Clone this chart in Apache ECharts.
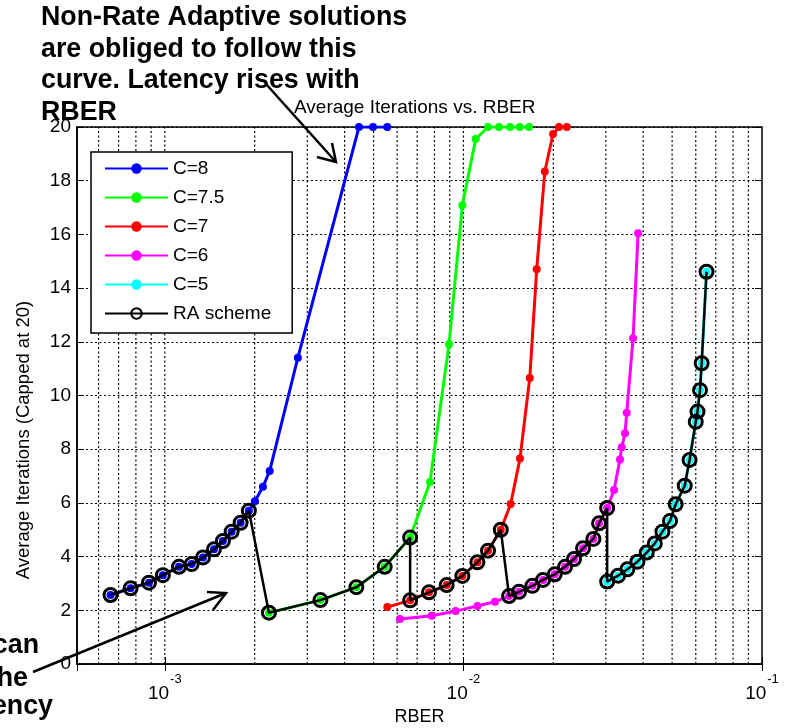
<!DOCTYPE html>
<html>
<head>
<meta charset="utf-8">
<script src="https://cdn.jsdelivr.net/npm/echarts@6/dist/echarts.min.js"></script>
<style>
html,body{margin:0;padding:0;background:#fff;}
#chart{width:787px;height:728px;}
</style>
</head>
<body>
<div id="chart"></div>
<script>
// ---- data ----
const blueX = [6.58e-4, 7.68e-4, 8.85e-4, 9.85e-4, 1.115e-3, 1.23e-3, 1.342e-3, 1.461e-3, 1.565e-3, 1.674e-3, 1.794e-3, 1.912e-3, 2.003e-3, 2.131e-3, 2.245e-3, 2.79e-3, 4.47e-3, 4.98e-3, 5.56e-3];
const blueY = [2.57, 2.82, 3.03, 3.31, 3.62, 3.72, 3.97, 4.27, 4.58, 4.93, 5.26, 5.71, 6.06, 6.60, 7.19, 11.41, 20, 20, 20];

const greenX = [2.232e-3, 3.32e-3, 4.38e-3, 5.45e-3, 6.63e-3, 7.73e-3, 8.95e-3, 9.92e-3, 1.0995e-2, 1.209e-2, 1.316e-2, 1.433e-2, 1.544e-2, 1.659e-2];
const greenY = [1.91, 2.38, 2.86, 3.62, 4.71, 6.78, 11.91, 17.09, 19.55, 20, 20, 20, 20, 20];

const redX = [5.56e-3, 6.63e-3, 7.67e-3, 8.79e-3, 9.92e-3, 1.114e-2, 1.209e-2, 1.334e-2, 1.44e-2, 1.547e-2, 1.668e-2, 1.76e-2, 1.873e-2, 1.996e-2, 2.09e-2, 2.22e-2];
const redY = [2.12, 2.37, 2.67, 2.94, 3.28, 3.79, 4.22, 5.0, 5.96, 7.65, 10.65, 14.70, 18.34, 19.74, 20, 20];

const magentaX = [6.13e-3, 7.83e-3, 9.42e-3, 1.114e-2, 1.276e-2, 1.422e-2, 1.536e-2, 1.702e-2, 1.848e-2, 2.022e-2, 2.19e-2, 2.347e-2, 2.516e-2, 2.725e-2, 2.846e-2, 3.03e-2, 3.195e-2, 3.345e-2, 3.39e-2, 3.478e-2, 3.524e-2, 3.70e-2, 3.846e-2];
const magentaY = [1.68, 1.80, 1.97, 2.16, 2.32, 2.53, 2.69, 2.91, 3.13, 3.34, 3.62, 3.91, 4.31, 4.66, 5.24, 5.81, 6.48, 7.62, 8.07, 8.59, 9.36, 12.13, 16.04];

const cyanX = [3.03e-2, 3.296e-2, 3.543e-2, 3.827e-2, 4.11e-2, 4.375e-2, 4.64e-2, 4.92e-2, 5.14e-2, 5.51e-2, 5.72e-2, 6.0e-2, 6.08e-2, 6.2e-2, 6.28e-2, 6.52e-2];
const cyanY = [3.07, 3.29, 3.53, 3.81, 4.15, 4.49, 4.93, 5.33, 5.95, 6.64, 7.6, 9.02, 9.40, 10.20, 11.20, 14.61];

const raX = [6.58e-4, 7.68e-4, 8.85e-4, 9.85e-4, 1.115e-3, 1.23e-3, 1.342e-3, 1.461e-3, 1.565e-3, 1.674e-3, 1.794e-3, 1.912e-3, 2.232e-3, 3.32e-3, 4.38e-3, 5.45e-3, 6.63e-3, 6.63e-3, 7.67e-3, 8.79e-3, 9.92e-3, 1.114e-2, 1.209e-2, 1.334e-2, 1.422e-2, 1.536e-2, 1.702e-2, 1.848e-2, 2.022e-2, 2.19e-2, 2.347e-2, 2.516e-2, 2.725e-2, 2.846e-2, 3.03e-2, 3.03e-2, 3.296e-2, 3.543e-2, 3.827e-2, 4.11e-2, 4.375e-2, 4.64e-2, 4.92e-2, 5.14e-2, 5.51e-2, 5.72e-2, 6.0e-2, 6.08e-2, 6.2e-2, 6.28e-2, 6.52e-2];
const raY = [2.57, 2.82, 3.03, 3.31, 3.62, 3.72, 3.97, 4.27, 4.58, 4.93, 5.26, 5.71, 1.91, 2.38, 2.86, 3.62, 4.71, 2.37, 2.67, 2.94, 3.28, 3.79, 4.22, 5.0, 2.53, 2.69, 2.91, 3.13, 3.34, 3.62, 3.91, 4.31, 4.66, 5.24, 5.81, 3.07, 3.29, 3.53, 3.81, 4.15, 4.49, 4.93, 5.33, 5.95, 6.64, 7.6, 9.02, 9.40, 10.20, 11.20, 14.61];

const seriesNames = ['C=8', 'C=7.5', 'C=7', 'C=6', 'C=5', 'RA scheme'];
const seriesColors = ['#0000ff', '#00ff00', '#ff0000', '#ff00ff', '#00ffff', '#000000'];

// x grid-line positions (log minor/major ticks)
const gridX = [6e-4, 7e-4, 8e-4, 9e-4, 1e-3, 2e-3, 3e-3, 4e-3, 5e-3, 6e-3, 7e-3, 8e-3, 9e-3, 1e-2, 2e-2, 3e-2, 4e-2, 5e-2, 6e-2, 7e-2, 8e-2, 9e-2];
const yTicks = [0, 2, 4, 6, 8, 10, 12, 14, 16, 18, 20];

const xMin = 5.08e-4, xMax = 0.1;
const FONT = '"Liberation Sans", Arial, Helvetica, sans-serif';

function pairs(xs, ys) { return xs.map((x, i) => [x, ys[i]]); }

const chart = echarts.init(document.getElementById('chart'), null, {renderer: 'canvas'});

const colored = [[blueX, blueY], [greenX, greenY], [redX, redY], [magentaX, magentaY], [cyanX, cyanY]];
const series = [];

// dotted vertical grid lines, drawn through the log x scale
gridX.forEach(v => {
  series.push({
    name: 'grid', type: 'line', silent: true, z: 1,
    data: [[v, yTicks[0]], [v, yTicks[yTicks.length - 1]]],
    symbol: 'none', showSymbol: false,
    lineStyle: {color: '#000', type: [2, 2.5], width: 1.2},
    tooltip: {show: false}, animation: false
  });
});

colored.forEach((d, i) => {
  series.push({
    name: seriesNames[i], type: 'line', data: pairs(d[0], d[1]),
    symbol: 'circle', symbolSize: 8, showSymbol: true, showAllSymbol: true,
    lineStyle: {color: seriesColors[i], width: 3},
    itemStyle: {color: seriesColors[i]},
    z: 3, animation: false
  });
});

series.push({
  name: 'RA scheme', type: 'line', data: pairs(raX, raY),
  symbol: 'circle', symbolSize: 13, showSymbol: true, showAllSymbol: true,
  lineStyle: {color: '#000', width: 2.5},
  itemStyle: {color: 'rgba(0,0,0,0)', borderColor: '#000', borderWidth: 3},
  z: 5, animation: false
});

function xLabel(v) {
  const e = Math.log10(v);
  if (Math.abs(e - Math.round(e)) < 1e-6) return '{b|10}{s|' + Math.round(e) + '}';
  return '';
}

const option = {
  backgroundColor: '#fff',
  animation: false,
  textStyle: {fontFamily: FONT},
  title: {
    text: 'Average Iterations vs. RBER',
    left: 289, top: 93,
    textStyle: {fontSize: 19, fontWeight: 'normal', color: '#000', fontFamily: FONT}
  },
  grid: {left: 77, right: 25, top: 127, bottom: 64, outerBoundsMode: 'none', containLabel: false,
         show: true, borderColor: '#000', borderWidth: 1.5, backgroundColor: 'rgba(0,0,0,0)'},
  legend: {
    data: seriesNames,
    orient: 'vertical', left: 91, top: 152,
    backgroundColor: '#fff', borderColor: '#000', borderWidth: 1.5, borderRadius: 0,
    padding: [7, 21, 10, 13],
    itemWidth: 63, itemHeight: 13, itemGap: 10,
    textStyle: {fontSize: 19, color: '#000', fontFamily: FONT},
    z: 10
  },
  xAxis: [{
    type: 'log', logBase: 10, min: xMin, max: xMax,
    name: 'RBER', nameLocation: 'middle', nameGap: 44,
    nameTextStyle: {fontSize: 18, color: '#000', fontFamily: FONT},
    axisLine: {show: true, lineStyle: {color: '#000', width: 1.5}},
    axisTick: {show: true, inside: true, length: 7, lineStyle: {color: '#000'}},
    splitLine: {show: false},
    axisLabel: {
      margin: 9, formatter: xLabel, color: '#000',
      rich: {
        b: {fontSize: 19, fontFamily: FONT, color: '#000', verticalAlign: 'bottom', lineHeight: 30},
        s: {fontSize: 13, fontFamily: FONT, color: '#000', verticalAlign: 'top', lineHeight: 30, padding: [0, 0, 0, 1]}
      }
    }
  }, {
    type: 'log', logBase: 10, min: xMin, max: xMax, position: 'top',
    axisLine: {show: false}, axisLabel: {show: false}, splitLine: {show: false},
    axisTick: {show: true, inside: true, length: 7, lineStyle: {color: '#000'}}
  }],
  yAxis: [{
    type: 'value', min: yTicks[0], max: yTicks[yTicks.length - 1], interval: 2,
    axisLine: {show: true, lineStyle: {color: '#000', width: 1.5}},
    axisTick: {show: true, inside: true, length: 7, lineStyle: {color: '#000'}},
    axisLabel: {fontSize: 19, color: '#000', margin: 6, fontFamily: FONT},
    splitLine: {show: true, lineStyle: {color: '#000', type: [2, 2.5], width: 1.2}}
  }, {
    type: 'value', min: yTicks[0], max: yTicks[yTicks.length - 1], interval: 2, position: 'right',
    axisLine: {show: false}, axisLabel: {show: false}, splitLine: {show: false},
    axisTick: {show: true, inside: true, length: 7, lineStyle: {color: '#000'}}
  }],
  series: series,
  graphic: [
    {type: 'text', x: 24, y: 440, rotation: Math.PI / 2, z: 20,
     style: {text: 'Average Iterations (Capped at 20)', font: '18.5px ' + FONT, fill: '#000', align: 'center', verticalAlign: 'middle'}},
    {type: 'text', x: 41, y: 2, z: 20,
     style: {text: 'Non-Rate Adaptive solutions\nare obliged to follow this\ncurve. Latency rises with\nRBER', font: 'bold 26.8px ' + FONT, lineHeight: 31.5, fill: '#000', align: 'left', verticalAlign: 'top'}},
    {type: 'text', x: 39, y: 646, z: 20,
     style: {text: 'can', font: 'bold 26.8px ' + FONT, fill: '#000', align: 'right', verticalAlign: 'middle'}},
    {type: 'text', x: 28, y: 679, z: 20,
     style: {text: 'he', font: 'bold 26.8px ' + FONT, fill: '#000', align: 'right', verticalAlign: 'middle'}},
    {type: 'text', x: 53, y: 707, z: 20,
     style: {text: 'ency', font: 'bold 26.8px ' + FONT, fill: '#000', align: 'right', verticalAlign: 'middle'}},
    {type: 'polyline', z: 20, shape: {points: [[266, 84], [336, 162]]}, style: {stroke: '#000', lineWidth: 2.5, fill: null}},
    {type: 'polyline', z: 20, shape: {points: [[317, 157], [336, 162], [332, 143]]}, style: {stroke: '#000', lineWidth: 2.5, fill: null}},
    {type: 'polyline', z: 20, shape: {points: [[33, 672], [226, 593]]}, style: {stroke: '#000', lineWidth: 2.5, fill: null}},
    {type: 'polyline', z: 20, shape: {points: [[207, 592], [226, 593], [213, 610]]}, style: {stroke: '#000', lineWidth: 2.5, fill: null}}
  ]
};

chart.setOption(option);
</script>
</body>
</html>
